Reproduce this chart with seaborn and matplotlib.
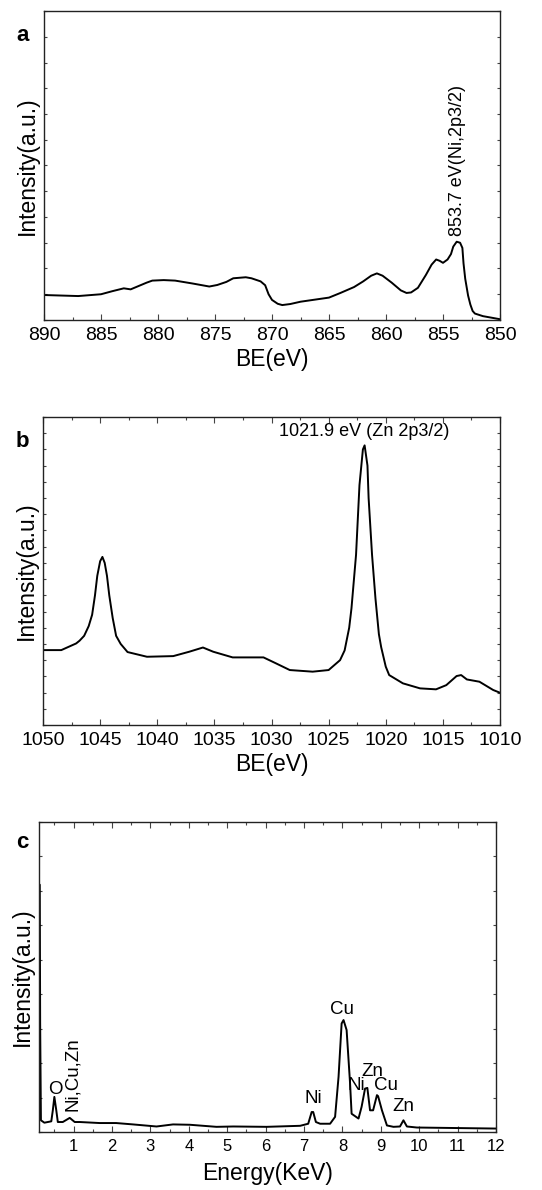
import numpy as np
import pandas as pd
import matplotlib
matplotlib.use("Agg")
import matplotlib.pyplot as plt
import seaborn as sns
from matplotlib.ticker import MultipleLocator

# ---- Panel a: Ni 2p XPS ----
be_ni = [890, 887, 885, 884, 883, 882.4, 881, 880.5, 879.5, 878.5, 877, 875.5, 874.8,
         874, 873.4, 872.3, 871.8, 871, 870.6, 870.3, 870, 869.5, 869.1, 868.4, 867.5,
         865, 864, 862.8, 862, 861.3, 860.8, 860.3, 859.5, 858.7, 858.2, 857.8, 857.2,
         856.5, 856, 855.6, 855.3, 855, 854.6, 854.3, 854.1, 853.8, 853.5, 853.3, 853.2,
         853.05, 852.8, 852.6, 852.4, 852.2, 851.5, 850]
int_ni = [0.97, 0.93, 1.0, 1.12, 1.23, 1.19, 1.45, 1.53, 1.55, 1.53, 1.42, 1.30, 1.36,
          1.48, 1.62, 1.66, 1.62, 1.50, 1.35, 1.0, 0.78, 0.63, 0.58, 0.62, 0.71,
          0.87, 1.05, 1.28, 1.5, 1.72, 1.81, 1.72, 1.45, 1.15, 1.05, 1.07, 1.25,
          1.75, 2.15, 2.35, 2.3, 2.22, 2.35, 2.56, 2.85, 3.04, 3.0, 2.8, 2.2,
          1.6, 0.95, 0.6, 0.35, 0.25, 0.15, 0.03]

# ---- Panel b: Zn 2p XPS ----
be_zn = [1050, 1048.4, 1047.1, 1046.8, 1046.4, 1046.0, 1045.7, 1045.45, 1045.25, 1045.0,
         1044.8, 1044.6, 1044.4, 1044.2, 1043.9, 1043.6, 1043.2, 1042.6, 1040.9, 1038.6,
         1037.2, 1036, 1035.1, 1033.4, 1030.7, 1029.6, 1028.4, 1026.4, 1025.0, 1024.0,
         1023.6, 1023.2, 1023.0, 1022.6, 1022.3, 1022.0, 1021.85, 1021.6, 1021.5, 1021.2,
         1020.9, 1020.6, 1020.4, 1020.0, 1019.7, 1018.5, 1017.0, 1015.6, 1014.7, 1013.8,
         1013.4, 1012.9, 1011.8, 1010.6, 1010]
int_zn = [4.62, 4.62, 5.03, 5.2, 5.5, 6.1, 6.8, 8.0, 9.2, 10.1,
          10.37, 10.0, 9.2, 8.0, 6.6, 5.5, 5.0, 4.5, 4.21, 4.25,
          4.52, 4.78, 4.52, 4.17, 4.17, 3.80, 3.39, 3.29, 3.39, 4.00,
          4.6, 6.0, 7.2, 10.5, 14.8, 17.0, 17.25, 16.0, 14.0, 10.5,
          7.8, 5.6, 4.8, 3.6, 3.08, 2.57, 2.26, 2.20, 2.46, 3.02,
          3.08, 2.81, 2.67, 2.16, 1.99]

# ---- Panel c: EDS ----
energy = [0.12, 0.13, 0.15, 0.24, 0.42, 0.46, 0.50, 0.55, 0.59, 0.72, 0.90, 1.03, 1.16,
          1.68, 2.11, 2.55, 3.16, 3.59, 4.03, 4.72, 5.16, 6.03, 6.9, 7.11, 7.2, 7.24,
          7.31, 7.42, 7.68, 7.81, 7.9, 7.98, 8.03, 8.11, 8.2, 8.24, 8.42, 8.5, 8.59,
          8.65, 8.72, 8.8, 8.9, 8.93, 9.03, 9.16, 9.33, 9.5, 9.59, 9.68, 9.94, 12]
counts = [7.18, 3.15, 0.34, 0.27, 0.31, 0.63, 1.02, 0.63, 0.29, 0.29, 0.41, 0.29, 0.29,
          0.26, 0.26, 0.22, 0.16, 0.22, 0.21, 0.15, 0.16, 0.15, 0.18, 0.24, 0.58, 0.58,
          0.29, 0.24, 0.24, 0.44, 1.6, 3.15, 3.25, 2.96, 1.41, 0.53, 0.39, 0.73, 1.26,
          1.28, 0.63, 0.63, 1.07, 1.04, 0.63, 0.19, 0.15, 0.16, 0.34, 0.16, 0.13, 0.10]

eds_labels = ["O", "Ni", "Cu", "Ni", "Zn", "Cu", "Zn"]
eds_label_x = [0.52, 7.24, 8.0, 8.36, 8.77, 9.14, 9.59]
eds_label_y = [1.0, 0.72, 3.3, 1.1, 1.52, 1.1, 0.5]

sns.set_style("ticks")
plt.rcParams['font.family'] = ['Liberation Sans', 'DejaVu Sans']
plt.rcParams['text.color'] = 'black'
plt.rcParams['axes.labelcolor'] = 'black'
plt.rcParams['xtick.labelcolor'] = 'black'

fig = plt.figure(figsize=(5.42, 11.9), dpi=100)
ax_a = fig.add_axes([44/542, 1-320/1190, 456/542, 309/1190])
ax_b = fig.add_axes([43/542, 1-725/1190, 457/542, 308/1190])
ax_c = fig.add_axes([39/542, 1-1132/1190, 457/542, 310/1190])

lw = 1.4
sns.lineplot(x=be_ni, y=int_ni, ax=ax_a, color="black", lw=lw, sort=False)
sns.lineplot(x=be_zn, y=int_zn, ax=ax_b, color="black", lw=lw, sort=False)
sns.lineplot(x=energy, y=counts, ax=ax_c, color="black", lw=lw, sort=False)

def style(ax, top=False, labelsize=14):
    for s in ax.spines.values():
        s.set_linewidth(1.0)
        s.set_color("#222222")
    ax.tick_params(axis="both", which="both", direction="in", top=top, right=True,
                   labelsize=labelsize, color="#444444", width=0.8, labelcolor="black")
    ax.tick_params(axis="y", labelleft=False, length=2)
    ax.tick_params(axis="x", which="major", length=4, pad=5)
    ax.tick_params(axis="x", which="minor", length=2.5)
    ax.set_ylabel("Intensity(a.u.)", fontsize=16.5, labelpad=4, color="black")

# panel a
ax_a.set_xlim(890, 850)
ax_a.set_ylim(0, 12)
ax_a.xaxis.set_major_locator(MultipleLocator(5))
ax_a.xaxis.set_minor_locator(MultipleLocator(2.5))
ax_a.yaxis.set_major_locator(MultipleLocator(1))
style(ax_a)
ax_a.set_xlabel("BE(eV)", fontsize=16.5, labelpad=3, color="black")
ax_a.text(853.7, 3.25, "853.7 eV(Ni,2p3/2)", rotation=90, ha="center", va="bottom",
          fontsize=13, color="black")
ax_a.text(-0.046, 0.922, "a", transform=ax_a.transAxes, fontsize=16, fontweight="bold",
          ha="center", va="center", color="black")

# panel b
ax_b.set_xlim(1050, 1010)
ax_b.set_ylim(0, 19)
ax_b.xaxis.set_major_locator(MultipleLocator(5))
ax_b.xaxis.set_minor_locator(MultipleLocator(2.5))
ax_b.yaxis.set_major_locator(MultipleLocator(1))
style(ax_b, top=True)
ax_b.set_xlabel("BE(eV)", fontsize=16.5, labelpad=3, color="black")
ax_b.text(1021.9, 17.6, "1021.9 eV (Zn 2p3/2)", ha="center", va="bottom", fontsize=13,
          color="black")
ax_b.text(-0.046, 0.919, "b", transform=ax_b.transAxes, fontsize=16, fontweight="bold",
          ha="center", va="center", color="black")

# panel c
ax_c.set_xlim(0.1, 12)
ax_c.set_ylim(0, 9)
ax_c.set_xticks(range(1, 13))
ax_c.xaxis.set_minor_locator(MultipleLocator(0.5))
ax_c.yaxis.set_major_locator(MultipleLocator(1))
style(ax_c, top=True, labelsize=12)
ax_c.set_xlabel("Energy(KeV)", fontsize=16.5, labelpad=6, color="black")
for lab, lx, ly in zip(eds_labels, eds_label_x, eds_label_y):
    ax_c.text(lx, ly, lab, ha="center", va="bottom", fontsize=13.5, color="black")
ax_c.text(0.98, 0.6, "Ni,Cu,Zn", rotation=90, ha="center", va="bottom", fontsize=13.5,
          color="black")
ax_c.text(-0.037, 0.935, "c", transform=ax_c.transAxes, fontsize=16, fontweight="bold",
          ha="center", va="center", color="black")

fig.savefig("out.png", dpi=100)
